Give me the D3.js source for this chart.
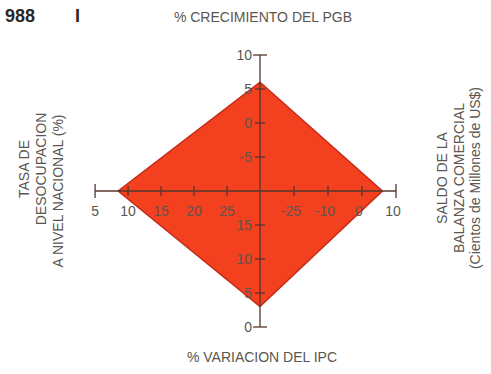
<!DOCTYPE html>
<html>
<head>
<meta charset="utf-8">
<script src="https://cdn.jsdelivr.net/npm/d3@7"></script>
<style>
  body { margin: 0; background: #fff; }
  text { font-family: "Liberation Sans", Arial, sans-serif; fill: #5b5650; }
</style>
</head>
<body>
<script>
/* Data */
var pgbTicks = [10, 5, 0, -5];          // top axis, % crecimiento del PGB
var ipcTicks = [15, 10, 5, 0];          // bottom axis, % variacion del IPC
var desTicks = [5, 10, 15, 20, 25];     // left axis, tasa de desocupacion
var balTicks = [-25, -10, 0, 10];       // right axis, saldo balanza comercial
var balLabels = ["-25", "-10", "0", "10"];

var pgbValue = 6;
var ipcValue = 3;
var desValue = 8.5;
var balValue = 6;

/* Layout */
var W = 491, H = 374;
var cx = 260, cy = 191, step = 34;

// each scale gives distance from centre (px)
var sTop = d3.scaleLinear().domain([-10, 10]).range([0, 4 * step]);
var sBottom = d3.scaleLinear().domain([20, 0]).range([0, 4 * step]);
var sLeft = d3.scaleLinear().domain([30, 5]).range([0, 4.85 * step]);
var sRight = d3.scaleLinear().domain([-40, -25, -10, 0, 10]).range([0, step, 2 * step, 3 * step, 4 * step]);

var svg = d3.select("body").append("svg")
  .attr("width", W).attr("height", H);

// diamond
var pts = [
  [cx, cy - sTop(pgbValue)],
  [cx + sRight(balValue), cy],
  [cx, cy + sBottom(ipcValue)],
  [cx - sLeft(desValue), cy]
];
svg.append("polygon")
  .attr("points", pts.map(function(p) { return p.join(","); }).join(" "))
  .attr("fill", "#f3401f")
  .attr("stroke", "#c42a18")
  .attr("stroke-width", 1.5)
  .attr("stroke-linejoin", "miter");

var axisCol = "#54372c";
var ax = svg.append("g").attr("stroke", axisCol).attr("stroke-width", 1.3);

// axis lines
ax.append("line").attr("x1", cx).attr("x2", cx)
  .attr("y1", cy - sTop(10)).attr("y2", cy + sBottom(0));
ax.append("line").attr("y1", cy).attr("y2", cy)
  .attr("x1", cx - sLeft(5)).attr("x2", cx + sRight(10));

// vertical ticks
pgbTicks.forEach(function(v) {
  var y = cy - sTop(v), w = v === 10 ? 7 : 5;
  ax.append("line").attr("x1", cx - w).attr("x2", cx + w).attr("y1", y).attr("y2", y);
  svg.append("text").attr("x", cx - 8).attr("y", y + 5)
    .attr("text-anchor", "end").attr("font-size", 14).text(v);
});
ipcTicks.forEach(function(v) {
  var y = cy + sBottom(v), w = v === 0 ? 7 : 5;
  ax.append("line").attr("x1", cx - w).attr("x2", cx + w).attr("y1", y).attr("y2", y);
  svg.append("text").attr("x", cx - 8).attr("y", y + 5)
    .attr("text-anchor", "end").attr("font-size", 14).text(v);
});

// horizontal ticks
desTicks.forEach(function(v) {
  var x = cx - sLeft(v), h = v === 5 ? 7 : 5;
  ax.append("line").attr("x1", x).attr("x2", x).attr("y1", cy - h).attr("y2", cy + h);
  svg.append("text").attr("x", x).attr("y", cy + 25)
    .attr("text-anchor", "middle").attr("font-size", 14).text(v);
});
balTicks.forEach(function(v, i) {
  var x = cx + sRight(v), h = v === 10 ? 7 : 5;
  ax.append("line").attr("x1", x).attr("x2", x).attr("y1", cy - h).attr("y2", cy + h);
  svg.append("text").attr("x", x - 3).attr("y", cy + 25)
    .attr("text-anchor", "middle").attr("font-size", 14).text(balLabels[i]);
});

// titles
svg.append("text").attr("x", 5).attr("y", 22)
  .attr("font-size", 18).attr("font-weight", "bold").style("fill", "#2a2624")
  .text("988");
svg.append("text").attr("x", 75).attr("y", 22)
  .attr("font-size", 18).attr("font-weight", "bold").style("fill", "#2a2624")
  .text("I");

svg.append("text").attr("x", 263).attr("y", 22)
  .attr("text-anchor", "middle").attr("font-size", 14)
  .text("% CRECIMIENTO DEL PGB");
svg.append("text").attr("x", 262).attr("y", 362)
  .attr("text-anchor", "middle").attr("font-size", 14)
  .text("% VARIACION DEL IPC");

var leftLines = [
  { t: "TASA DE", x: 29, y: 169 },
  { t: "DESOCUPACION", x: 46, y: 169 },
  { t: "A NIVEL NACIONAL (%)", x: 63, y: 191 }
];
leftLines.forEach(function(d) {
  svg.append("text")
    .attr("transform", "translate(" + d.x + "," + d.y + ") rotate(-90)")
    .attr("text-anchor", "middle").attr("font-size", 14).text(d.t);
});

var rightLines = [
  { t: "SALDO DE LA", x: 447 },
  { t: "BALANZA COMERCIAL", x: 464 },
  { t: "(Cientos de Millones de US$)", x: 480 }
];
rightLines.forEach(function(d) {
  svg.append("text")
    .attr("transform", "translate(" + d.x + ",178) rotate(-90)")
    .attr("text-anchor", "middle").attr("font-size", 14).text(d.t);
});
</script>
</body>
</html>
